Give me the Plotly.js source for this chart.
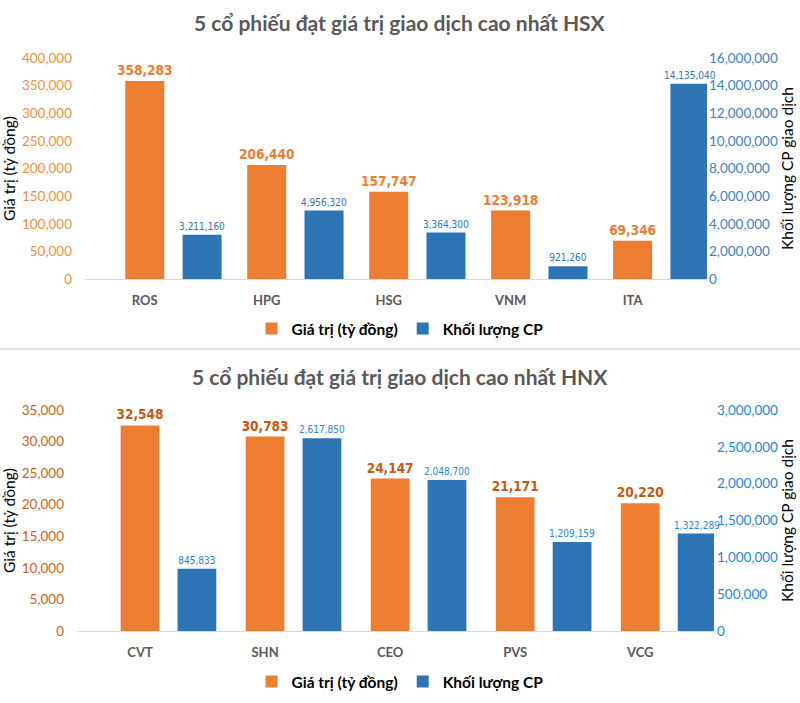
<!DOCTYPE html>
<html>
<head>
<meta charset="utf-8">
<script src="https://cdn.plot.ly/plotly-3.0.1.min.js"></script>
<style>html,body{margin:0;padding:0;background:#fff;}#chart{width:800px;height:703px;}</style>
</head>
<body>
<div id="chart"></div>
<script>
// ---- Data: HSX ----
const hsxCategories = ["ROS", "HPG", "HSG", "VNM", "ITA"];
const hsxValue = [358283, 206440, 157747, 123918, 69346];          // Giá trị (tỷ đồng)
const hsxVolume = [3211160, 4956320, 3364300, 921260, 14135040];    // Khối lượng CP

// ---- Data: HNX ----
const hnxCategories = ["CVT", "SHN", "CEO", "PVS", "VCG"];
const hnxValue = [32548, 30783, 24147, 21171, 20220];
const hnxVolume = [845833, 2617850, 2048700, 1209159, 1322289];

const seriesNames = ["Giá trị (tỷ đồng)", "Khối lượng CP"];
const titles = ["5 cổ phiếu đạt giá trị giao dịch cao nhất HSX", "5 cổ phiếu đạt giá trị giao dịch cao nhất HNX"];

const fmt = v => v.toLocaleString('en-US');
const ORANGE = '#ED7D31', BLUE = '#2E75B6';
const numFont = "'DejaVu Sans Condensed', 'Liberation Sans Narrow', sans-serif";
const baseFont = "Lato, 'Open Sans', sans-serif";

const traces = [
  {type:'bar', name:seriesNames[0], x:hsxCategories, y:hsxValue, xaxis:'x', yaxis:'y',
   marker:{color:ORANGE}, width:0.32, offset:-0.16,
   text:hsxValue.map(fmt), textposition:'outside', constraintext:'none', cliponaxis:false,
   textfont:{family:numFont, size:13.5, color:ORANGE, weight:'bold'}, legend:'legend', hoverinfo:'skip'},
  {type:'bar', name:seriesNames[1], x:hsxCategories, y:hsxVolume, xaxis:'x', yaxis:'y2',
   marker:{color:BLUE}, width:0.32, offset:0.31,
   text:hsxVolume.map(fmt), textposition:'outside', constraintext:'none', cliponaxis:false,
   textfont:{family:numFont, size:10, color:'#2E75B6'}, legend:'legend', hoverinfo:'skip'},
  {type:'bar', name:seriesNames[0], x:hnxCategories, y:hnxValue, xaxis:'x2', yaxis:'y3',
   marker:{color:ORANGE}, width:0.31, offset:-0.155,
   text:hnxValue.map(fmt), textposition:'outside', constraintext:'none', cliponaxis:false,
   textfont:{family:numFont, size:13.5, color:'#C55A11', weight:'bold'}, legend:'legend2', hoverinfo:'skip'},
  {type:'bar', name:seriesNames[1], x:hnxCategories, y:hnxVolume, xaxis:'x2', yaxis:'y4',
   marker:{color:BLUE}, width:0.31, offset:0.30,
   text:hnxVolume.map(fmt), textposition:'outside', constraintext:'none', cliponaxis:false,
   textfont:{family:numFont, size:10, color:'#1E88D8'}, legend:'legend2', hoverinfo:'skip'}
];

const catAxis = (domain, anchor, range) => ({
  domain:domain, anchor:anchor, type:'category', range:range,
  showline:true, linecolor:'#D9D9D9', linewidth:1, showgrid:false, zeroline:false,
  ticks:'', ticklabelstandoff:9,
  tickfont:{family:baseFont, size:13, color:'#595959', weight:'bold'}, fixedrange:true
});

const valAxis = (domain, anchor, range, dtick, color, titleText, side, overlay, standoff) => {
  const a = {
    domain:domain, anchor:anchor, range:range, dtick:dtick, tick0:0, tickformat:',',
    showgrid:false, zeroline:false, showline:false, ticks:'',
    tickfont:{family:baseFont, size:13.5, color:color},
    title:{text:titleText, font:{family:baseFont, size:15.5, color:'#000'}, standoff:standoff},
    side:side, automargin:false, fixedrange:true
  };
  if (overlay) a.overlaying = overlay;
  return a;
};

const layout = {
  width:800, height:703,
  margin:{l:0, r:0, t:0, b:0},
  paper_bgcolor:'#fff', plot_bgcolor:'#fff',
  barmode:'overlay',
  showlegend:true,
  xaxis: catAxis([0.10625, 0.88375], 'y', [-0.49, 4.61]),
  yaxis: Object.assign(valAxis([0.6031, 0.9175], 'x', [0, 400000], 50000, '#F0913F', seriesNames[0], 'left', null, 10), {ticklabelstandoff:12}),
  yaxis2: Object.assign(valAxis([0.6031, 0.9175], 'x', [0, 16000000], 2000000, '#3C82C4', 'Khối lượng CP giao dịch', 'right', 'y', 5), {ticklabelstandoff:1}),
  xaxis2: catAxis([0.09625, 0.8925], 'y3', [-0.504, 4.59]),
  yaxis3: Object.assign(valAxis([0.1024, 0.4168], 'x2', [0, 35000], 5000, '#C8631F', seriesNames[0], 'left', null, 10), {ticklabelstandoff:12}),
  yaxis4: Object.assign(valAxis([0.1024, 0.4168], 'x2', [0, 3000000], 500000, '#1E88D8', 'Khối lượng CP giao dịch', 'right', 'y3', 4), {ticklabelstandoff:2}),
  legend:{orientation:'h', x:0.5, xanchor:'center', y:0.532, yanchor:'middle',
          font:{family:baseFont, size:15.5, color:'#000', weight:'bold'}, itemwidth:30, traceorder:'normal'},
  legend2:{orientation:'h', x:0.5, xanchor:'center', y:0.030, yanchor:'middle',
          font:{family:baseFont, size:15.5, color:'#000', weight:'bold'}, itemwidth:30, traceorder:'normal'},
  annotations:[
    {text:titles[0], xref:'paper', yref:'paper', x:0.5, y:1-22/703, xanchor:'center', yanchor:'middle', showarrow:false,
     font:{family:baseFont, size:21, color:'#595959', weight:'bold'}},
    {text:titles[1], xref:'paper', yref:'paper', x:0.5, y:1-377/703, xanchor:'center', yanchor:'middle', showarrow:false,
     font:{family:baseFont, size:21, color:'#595959', weight:'bold'}}
  ],
  shapes:[
    {type:'line', xref:'paper', yref:'paper', x0:0, x1:1, y0:1-349/703, y1:1-349/703, line:{color:'#D9D9D9', width:1.5}}
  ]
};

Plotly.newPlot('chart', traces, layout, {staticPlot:true, displayModeBar:false});
</script>
</body>
</html>
